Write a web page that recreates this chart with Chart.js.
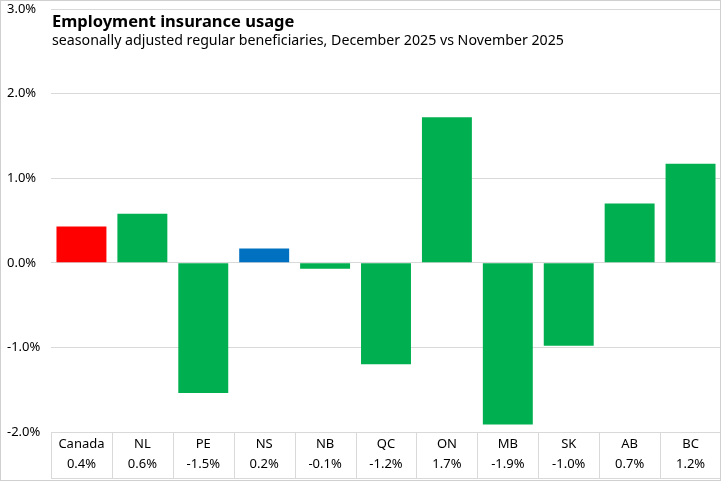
<!DOCTYPE html>
<html>
<head>
<meta charset="utf-8">
<script src="https://cdn.jsdelivr.net/npm/chart.js@4"></script>
<style>
  html, body { margin: 0; padding: 0; background: #fff; }
</style>
</head>
<body>
<canvas id="canvas" width="721" height="481"></canvas>
<script>
const categories = ['Canada', 'NL', 'PE', 'NS', 'NB', 'QC', 'ON', 'MB', 'SK', 'AB', 'BC'];
const changes = [0.43, 0.58, -1.54, 0.17, -0.07, -1.2, 1.72, -1.91, -0.98, 0.7, 1.17];
const barColors = ['#FF0000', '#00B050', '#00B050', '#0070C0', '#00B050', '#00B050',
                   '#00B050', '#00B050', '#00B050', '#00B050', '#00B050'];
const titleText = 'Employment insurance usage';
const subtitleText = 'seasonally adjusted regular beneficiaries, December 2025 vs November 2025';

const fontFam = '"Noto Sans", "Open Sans", sans-serif';
const gridGray = '#d9d9d9';

// title, table separators and frame drawn on top of the chart
const extras = {
    id: 'extras',
    afterDraw(chart) {
        const c = chart.ctx;
        const area = chart.chartArea;
        const x = chart.scales.x;
        c.save();
        c.strokeStyle = gridGray;
        c.lineWidth = 1;
        // table cell separators
        const half = (x.getPixelForValue(1) - x.getPixelForValue(0)) / 2;
        for (let i = 0; i <= categories.length; i++) {
            const px = Math.round(x.getPixelForValue(i) - half) + 0.5;
            c.beginPath();
            c.moveTo(px, area.bottom);
            c.lineTo(px, area.bottom + 46);
            c.stroke();
        }
        c.beginPath();
        c.moveTo(area.left, area.bottom + 46.5);
        c.lineTo(area.right, area.bottom + 46.5);
        c.stroke();
        // outer frame
        c.strokeStyle = '#d0d0d0';
        c.strokeRect(0.5, 0.5, chart.width - 1, chart.height - 1);
        // titles
        c.fillStyle = '#000';
        c.textBaseline = 'alphabetic';
        c.font = 'bold 16.5px ' + fontFam;
        c.fillText(titleText, 52, 27);
        c.font = '14.2px ' + fontFam;
        c.fillText(subtitleText, 52, 45);
        c.restore();
    }
};

const ctx = document.getElementById('canvas').getContext('2d');

new Chart(ctx, {
    type: 'bar',
    data: {
        labels: categories.map((cat, i) => [cat, changes[i].toFixed(1) + '%']),
        datasets: [{
            label: 'change',
            data: changes,
            backgroundColor: barColors,
            borderWidth: 0,
            barPercentage: 0.82,
            categoryPercentage: 1.0
        }]
    },
    options: {
        responsive: false,
        animation: false,
        devicePixelRatio: 1,
        layout: { padding: { top: 9, right: 0, bottom: 3, left: 7 } },
        plugins: {
            legend: { display: false },
            tooltip: { enabled: false }
        },
        scales: {
            x: {
                grid: { display: false },
                border: { display: false },
                afterFit: s => { s.height = 46; },
                ticks: {
                    color: '#000',
                    font: { family: fontFam, size: 13, lineHeight: 1.55 },
                    padding: -6,
                    maxRotation: 0,
                    autoSkip: false
                }
            },
            y: {
                min: -2,
                max: 3,
                grid: { color: gridGray, drawTicks: false },
                border: { display: false },
                afterFit: s => { s.width = 44; s.paddingTop = 0; s.paddingBottom = 0; },
                ticks: {
                    stepSize: 1,
                    color: '#000',
                    font: { family: fontFam, size: 13 },
                    padding: 12,
                    crossAlign: 'far',
                    callback: v => v.toFixed(1) + '%'
                }
            }
        }
    },
    plugins: [extras]
});
</script>
</body>
</html>
